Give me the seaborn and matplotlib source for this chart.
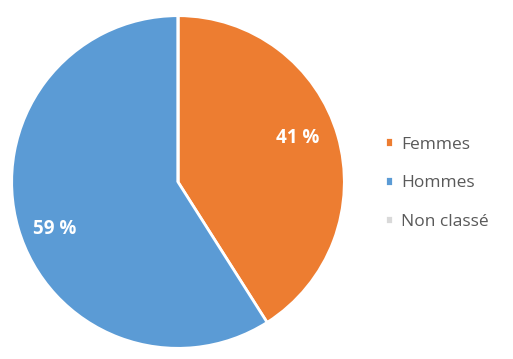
import matplotlib
matplotlib.use("Agg")
import matplotlib.pyplot as plt
import seaborn as sns

# Données du graphique
categories = ["Femmes", "Hommes", "Non classé"]
parts = [41, 59, 0]
colors = ["#ED7D31", "#5B9BD5", "#D9D9D9"]


def autopct(pct):
	# pas d'étiquette pour les parts vides
	return f"{pct:.0f} %" if pct > 0.5 else ""


def main() -> None:
	sns.set_theme(style="white")
	plt.rcParams["font.family"] = ["Open Sans", "DejaVu Sans"]

	fig = plt.figure(figsize=(5.13, 3.59), dpi=100)
	ax = fig.add_axes([10 / 513, 9 / 359, 336 / 513, 336 / 359])

	wedges, texts, autotexts = ax.pie(
		parts,
		colors=colors,
		autopct=autopct,
		startangle=90,
		counterclock=False,
		pctdistance=0.76,
		wedgeprops=dict(edgecolor="white", linewidth=2),
	)
	# petit décalage vertical des étiquettes, comme dans Excel
	shifts = [0.05, -0.07, 0.0]
	for t, dy in zip(autotexts, shifts):
		x, y = t.get_position()
		t.set_position((x - 0.01, y + dy))
		t.set_color("white")
		t.set_fontsize(13.5)
		t.set_fontweight("bold")
	ax.set_xlim(-1.01, 1.01)
	ax.set_ylim(-1.01, 1.01)
	ax.set_aspect("equal")
	ax.axis("off")

	fig.legend(
		wedges,
		categories,
		loc="center left",
		bbox_to_anchor=(369 / 513, 0.49),
		frameon=False,
		fontsize=12.5,
		labelcolor="#595959",
		handlelength=0.5,
		handleheight=0.5,
		handletextpad=0.45,
		labelspacing=1.3,
	)

	fig.savefig("out.png", dpi=100)
	plt.close(fig)


if __name__ == "__main__":
	main()
